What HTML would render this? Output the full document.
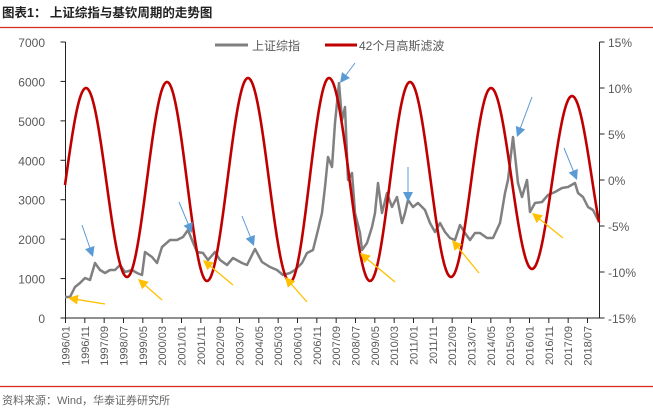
<!DOCTYPE html>
<html><head><meta charset="utf-8"><style>
body{margin:0;background:#fff;width:653px;height:411px;overflow:hidden}
svg{display:block;font-family:"Liberation Sans","Noto Sans CJK SC",sans-serif}
</style></head><body>
<svg id="s" width="653" height="411" xmlns="http://www.w3.org/2000/svg">
<defs>
<marker id="mb" markerWidth="10" markerHeight="10" refX="5" refY="5" orient="auto" markerUnits="userSpaceOnUse"><path d="M0,0 L10,5 L0,10 z" fill="#5b9bd5"/></marker>
<marker id="my" markerWidth="10" markerHeight="10" refX="5" refY="5" orient="auto" markerUnits="userSpaceOnUse"><path d="M0,0 L10,5 L0,10 z" fill="#ffc000"/></marker>
</defs>
<text x="2" y="17" font-size="12.5" font-weight="bold" fill="#222">图表1：  上证综指与基钦周期的走势图</text>
<line x1="0" y1="27.5" x2="653" y2="27.5" stroke="#d9281c" stroke-width="1.2"/>
<line x1="0" y1="386.5" x2="653" y2="386.5" stroke="#d9281c" stroke-width="1.2"/>
<text x="2" y="404" font-size="11" fill="#666">资料来源：Wind，华泰证券研究所</text>
<g id="axes" stroke="#222" stroke-width="1" fill="none"></g>
<g id="labels" font-size="12" fill="#595959"></g>
<line x1="215" y1="45" x2="248" y2="45" stroke="#808080" stroke-width="3"/>
<text x="252" y="50" font-size="12" fill="#595959">上证综指</text>
<line x1="325" y1="45" x2="357" y2="45" stroke="#c00000" stroke-width="3"/>
<text x="359" y="50" font-size="12" fill="#595959">42个月高斯滤波</text>
<polyline id="gray" fill="none" stroke="#808080" stroke-width="2.5" stroke-linejoin="round"/>
<path id="red" fill="none" stroke="#c00000" stroke-width="2.6"/>
<g id="arrows" stroke-width="1"></g>
</svg>
<script>
var NS="http://www.w3.org/2000/svg";
function el(p,t,a,txt){var e=document.createElementNS(NS,t);for(var k in a)e.setAttribute(k,a[k]);if(txt)e.textContent=txt;document.getElementById(p).appendChild(e);return e;}
var L=65.5,R=599.5,T=42,B=318;
el('axes','line',{x1:L,y1:T,x2:L,y2:B});
el('axes','line',{x1:R,y1:T,x2:R,y2:B});
el('axes','line',{x1:L,y1:B,x2:R,y2:B});
for(var i=0;i<=7;i++){var y=B-i*(B-T)/7;el('axes','line',{x1:L-5,y1:y,x2:L,y2:y});
 el('labels','text',{x:45,y:y+5,'text-anchor':'end'},String(i*1000));}
var pl=['-15%','-10%','-5%','0%','5%','10%','15%'];
for(var i=0;i<=6;i++){var y=B-i*(B-T)/6;el('axes','line',{x1:R,y1:y,x2:R+5,y2:y});
 el('labels','text',{x:608,y:y+5},pl[i]);}
var labs=['1996/01','1996/11','1997/09','1998/07','1999/05','2000/03','2001/01','2001/11','2002/09','2003/07','2004/05','2005/03','2006/01','2006/11','2007/09','2008/07','2009/05','2010/03','2011/01','2011/11','2012/09','2013/07','2014/05','2015/03','2016/01','2016/11','2017/09','2018/07'];
var st=(587-65)/(labs.length-1);
for(var i=0;i<labs.length;i++){var x=65.5+i*st;el('axes','line',{x1:x,y1:B,x2:x,y2:B+5});
 el('labels','text',{x:0,y:0,'font-size':11,'text-anchor':'end',transform:'translate('+(x+4)+','+(B+8)+') rotate(-90)'},labs[i]);}
var g=[[65,297],[70,297],[75,287],[80,283],[85,278],[90,280],[95,263],[100,270],[105,273],[110,270],[115,270],[120,265],[125,272],[132,270],[137,273],[142,275],[145,252],[152,257],[157,263],[162,247],[170,240],[177,240],[183,237],[188,230],[192,240],[197,252],[203,253],[208,260],[215,252],[220,260],[227,265],[233,258],[242,263],[247,265],[255,249],[262,262],[270,267],[277,270],[283,275],[290,273],[295,270],[302,263],[307,253],[313,250],[318,230],[322,213],[325,187],[328,157],[332,167],[335,123],[339,83],[342,120],[345,107],[348,180],[352,173],[355,213],[360,233],[362,250],[367,243],[372,227],[375,213],[378,183],[382,213],[387,193],[392,207],[397,197],[402,223],[405,213],[408,200],[413,207],[418,203],[425,210],[430,223],[435,232],[440,223],[445,232],[450,238],[455,240],[460,225],[465,233],[470,240],[475,233],[480,233],[487,238],[493,238],[500,223],[505,193],[508,180],[513,137],[518,183],[522,197],[527,180],[530,212],[535,203],[542,202],[548,195],[555,192],[562,188],[568,187],[575,183],[578,193],[583,197],[588,207],[593,210],[598,220]];
document.getElementById('gray').setAttribute('points',g.map(function(p){return p.join(',')}).join(' '));
var ex=[[45,275],[86,88],[127,277],[167,82],[207,281],[248,78],[290,282],[329,78],[370,281],[410,82],[451,277],[491,88],[532,269],[572,96],[612,262]];
var d='';
for(var x=65;x<=599;x+=1){var k=0;while(ex[k+1][0]<x)k++;var a=ex[k],b=ex[k+1],t=(x-a[0])/(b[0]-a[0]);var y=a[1]+(b[1]-a[1])*(1-Math.cos(Math.PI*t))/2;d+=(d?'L':'M')+x+','+y.toFixed(1);}
document.getElementById('red').setAttribute('d',d);
var bl=[[82,225,93,257],[179,202,192,233],[242,216,254,246],[355,63,340,83],[408,167,408,202],[532,97,517,137],[564,148,577,180]];
var yl=[[105,304,68,298],[162,300,138,279],[233,285,203,260],[307,302,285,277],[395,282,360,253],[479,273,452,240],[563,238,532,213]];
function arr(a,c,m,w){var dx=a[2]-a[0],dy=a[3]-a[1],l=Math.sqrt(dx*dx+dy*dy);el('arrows','line',{x1:a[0],y1:a[1],x2:a[2]-dx/l*5,y2:a[3]-dy/l*5,stroke:c,'stroke-width':w,'marker-end':'url(#'+m+')'});}
bl.forEach(function(a){arr(a,'#5b9bd5','mb',1);});
yl.forEach(function(a){arr(a,'#ffc000','my',1.3);});
</script>
</body></html>
